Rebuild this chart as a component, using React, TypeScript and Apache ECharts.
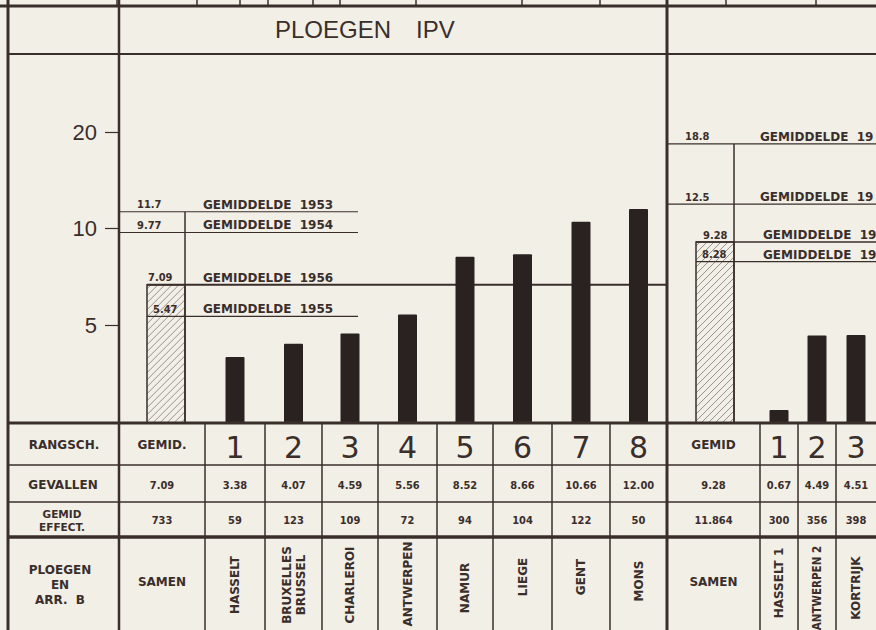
import React, { useEffect, useRef } from 'react';
import * as echarts from 'echarts';

// ---------------- data ----------------
const RANKS_LEFT = ['GEMID.', '1', '2', '3', '4', '5', '6', '7', '8'];
const PLACES_LEFT = ['SAMEN', 'HASSELT', 'BRUXELLES\nBRUSSEL', 'CHARLEROI', 'ANTWERPEN', 'NAMUR', 'LIEGE', 'GENT', 'MONS'];
const CASES_LEFT = [7.09, 3.38, 4.07, 4.59, 5.56, 8.52, 8.66, 10.66, 12.0];
const STAFF_LEFT = ['733', '59', '123', '109', '72', '94', '104', '122', '50'];

const RANKS_RIGHT = ['GEMID', '1', '2', '3'];
const PLACES_RIGHT = ['SAMEN', 'HASSELT 1', 'ANTWERPEN 2', 'KORTRIJK'];
const CASES_RIGHT = [9.28, 0.67, 4.49, 4.51];
const STAFF_RIGHT = ['11.864', '300', '356', '398'];

const MEANS_LEFT = [11.7, 9.77, 7.09, 5.47];
const MEAN_YEARS_LEFT = ['1953', '1954', '1956', '1955'];
const MEANS_RIGHT = [18.8, 12.5, 9.28, 8.28];
const MEAN_YEARS_RIGHT = ['19', '19', '19', '19'];

const Y_TICKS = [5, 10, 20];

const ROW_TITLES = ['RANGSCH.', 'GEVALLEN', 'GEMID\nEFFECT.', 'PLOEGEN\nEN\nARR.  B'];
const TITLE_A = 'PLOEGEN';
const TITLE_B = 'IPV';

// ---------------- layout / style ----------------
const PAPER = '#f2efe7';
const INK = '#3a2e2b';
const BAR = '#2a2220';
const W = 876;
const H = 630;
const BASE_Y = 423;
const GRID_TOP = 52.5;
const Y_MAX = 19;

// the printed scale is linear to 10 and compressed above 10
const T = (v: number) => (v <= 10 ? v : 10 + (v - 10) * 0.49);

const LEFT_EDGES = [119, 205, 265, 322, 378, 437, 493, 552, 610, 667];
const RIGHT_EDGES = [667, 760, 798, 836, 876];
const centers = (e: number[]) => e.slice(0, -1).map((x, i) => (x + e[i + 1]) / 2);
const LC = centers(LEFT_EDGES);
const RC = centers(RIGHT_EDGES);
const HATCH_X = [166, 715];
const HATCH_W = 38;
const BAR_W = 19;
const TOP_TICKS = [117, 197, 240, 268, 313, 340, 416, 522, 600, 726, 816];

const MEAN_LAYOUT_LEFT = [
  { x1: 119, x2: 358, lx: 137, tx: 203, w: 1.2 },
  { x1: 119, x2: 358, lx: 137, tx: 203, w: 1.2 },
  { x1: 147, x2: 667, lx: 148, tx: 203, w: 2 },
  { x1: 147, x2: 358, lx: 153, tx: 203, w: 1.2 },
];
const MEAN_LAYOUT_RIGHT = [
  { x1: 667, x2: 876, lx: 685, tx: 760, w: 1.2 },
  { x1: 667, x2: 876, lx: 685, tx: 760, w: 1.2 },
  { x1: 696, x2: 876, lx: 703, tx: 763, w: 1.5 },
  { x1: 696, x2: 876, lx: 702, tx: 763, w: 1.2 },
];
const NAME_Y_LEFT = [583, 585, 585, 585, 584, 588, 577, 577, 581];
const NAME_Y_RIGHT = [580, 583, 588, 588];

const FONT = 'DejaVu Sans';
const FONT_C = 'DejaVu Sans Condensed';

function txt(x: number, y: number, t: string, size: number, o: any = {}) {
  const align = o.align || 'center';
  return {
    type: 'text',
    x,
    y,
    rotation: o.rot || 0,
    silent: true,
    z: 10,
    style: {
      text: t,
      fill: INK,
      fontSize: size,
      fontFamily: o.family || FONT,
      fontWeight: o.weight || 'bold',
      textAlign: align,
      align,
      textVerticalAlign: 'middle',
      verticalAlign: 'middle',
      lineHeight: o.lh || Math.round(size * 1.2),
    },
  };
}
function ln(x1: number, y1: number, x2: number, y2: number, w: number) {
  return { type: 'line', silent: true, z: 5, shape: { x1, y1, x2, y2 }, style: { stroke: INK, lineWidth: w } };
}

function buildGraphic() {
  const g: any[] = [];
  // frame
  g.push(ln(0, 6, W, 6, 3));
  TOP_TICKS.forEach((x) => g.push(ln(x, 0, x, 6, 1.5)));
  g.push(ln(8, 0, 8, H, 3));
  g.push(ln(119, 0, 119, H, 2.5));
  g.push(ln(667, 0, 667, H, 3));
  g.push(ln(8, 54, W, 54, 2));
  g.push(ln(8, BASE_Y, W, BASE_Y, 3));
  g.push(ln(8, 465, W, 465, 1.5));
  g.push(ln(8, 502, W, 502, 1.5));
  g.push(ln(8, 537, W, 537, 3.5));
  [...LEFT_EDGES.slice(1, -1), ...RIGHT_EDGES.slice(1, -1)].forEach((x) => g.push(ln(x, BASE_Y, x, H, 1.5)));

  // title
  g.push(txt(275, 29, TITLE_A, 24, { align: 'left', family: 'Liberation Sans', weight: 'normal' }));
  g.push(txt(416, 29, TITLE_B, 24, { align: 'left', family: 'Liberation Sans', weight: 'normal' }));

  // row titles
  g.push(txt(64, 445, ROW_TITLES[0], 12));
  g.push(txt(63, 485, ROW_TITLES[1], 12));
  g.push(txt(62, 520, ROW_TITLES[2], 10.5, { lh: 13 }));
  g.push(txt(60, 585, ROW_TITLES[3], 12, { lh: 15 }));

  const addCols = (cx: number[], ranks: string[], cases: number[], staff: string[], places: string[], ny: number[], narrow: boolean) => {
    cx.forEach((x, i) => {
      if (i === 0) g.push(txt(x, 445, ranks[i], 12));
      else g.push(txt(x, 447, ranks[i], 30, { weight: 'normal' }));
      g.push(txt(x, 485, cases[i].toFixed(2), 11, { family: FONT_C }));
      g.push(txt(x, 520, staff[i], 11, { family: FONT_C }));
      if (i === 0) g.push(txt(x, 582, places[i], 12));
      else {
        const nm = places[i];
        const multi = nm.includes('\n');
        const small = narrow && nm.length > 9;
        g.push(txt(x, ny[i], nm, small ? 11.5 : 12, { rot: Math.PI / 2, lh: multi ? 14 : undefined, family: small ? FONT_C : FONT }));
      }
    });
  };
  addCols(LC, RANKS_LEFT, CASES_LEFT, STAFF_LEFT, PLACES_LEFT, NAME_Y_LEFT, false);
  addCols(RC, RANKS_RIGHT, CASES_RIGHT, STAFF_RIGHT, PLACES_RIGHT, NAME_Y_RIGHT, true);
  return g;
}

function buildOption() {
  const hatchData = [
    [HATCH_X[0], T(CASES_LEFT[0])],
    [HATCH_X[1], T(CASES_RIGHT[0])],
  ];
  const solidData = [
    ...LC.slice(1).map((x, i) => [x, T(CASES_LEFT[i + 1])]),
    ...RC.slice(1).map((x, i) => [x, T(CASES_RIGHT[i + 1])]),
  ];
  const meanRows = [
    ...MEANS_LEFT.map((v, i) => ({ v, year: MEAN_YEARS_LEFT[i], ...MEAN_LAYOUT_LEFT[i] })),
    ...MEANS_RIGHT.map((v, i) => ({ v, year: MEAN_YEARS_RIGHT[i], ...MEAN_LAYOUT_RIGHT[i] })),
  ];
  const meanData = meanRows.map((r) => [r.x1, T(r.v)]);
  const connData = [
    [HATCH_X[0] + HATCH_W / 2, T(Math.max(...MEANS_LEFT))],
    [HATCH_X[1] + HATCH_W / 2, T(Math.max(...MEANS_RIGHT))],
  ];
  const yTickVals = Y_TICKS.map(T);

  return {
    animation: false,
    backgroundColor: PAPER,
    grid: { left: 119, right: 0, top: GRID_TOP, bottom: H - BASE_Y },
    xAxis: { type: 'value', min: 119, max: W, show: false },
    yAxis: {
      type: 'value',
      min: 0,
      max: Y_MAX,
      axisLine: { show: false },
      splitLine: { show: false },
      axisTick: { show: true, length: 14, customValues: yTickVals, lineStyle: { color: INK, width: 1.2 } },
      axisLabel: {
        customValues: yTickVals,
        margin: 22,
        color: INK,
        fontSize: 22,
        fontFamily: 'Liberation Sans',
        formatter: (val: number) => {
          const t = Y_TICKS.find((k) => Math.abs(T(k) - val) < 1e-6);
          return t === undefined ? '' : String(t);
        },
      },
    },
    graphic: buildGraphic(),
    series: [
      {
        type: 'custom',
        name: 'gemiddelde',
        z: 2,
        data: hatchData,
        renderItem: (params: any, api: any) => {
          const top = api.coord([api.value(0), api.value(1)]);
          const base = api.coord([api.value(0), 0]);
          const x0 = top[0] - HATCH_W / 2;
          const x1 = top[0] + HATCH_W / 2;
          const y0 = top[1];
          const y1 = base[1];
          const children: any[] = [
            { type: 'rect', shape: { x: x0, y: y0, width: HATCH_W, height: y1 - y0 }, style: { fill: PAPER, stroke: INK, lineWidth: 1.5 } },
          ];
          for (let c = x0 + y0 + 4; c < x1 + y1; c += 7) {
            const xa = Math.max(x0, c - y1);
            const xb = Math.min(x1, c - y0);
            if (xb > xa) children.push({ type: 'line', shape: { x1: xa, y1: c - xa, x2: xb, y2: c - xb }, style: { stroke: INK, lineWidth: 0.7, opacity: 0.7 } });
          }
          return { type: 'group', children };
        },
      },
      {
        type: 'custom',
        name: 'jaargemiddelden',
        z: 3,
        data: meanData,
        renderItem: (params: any, api: any) => {
          const r = meanRows[params.dataIndex];
          const p1 = api.coord([r.x1, api.value(1)]);
          const p2 = api.coord([r.x2, api.value(1)]);
          const y = p1[1];
          return {
            type: 'group',
            children: [
              { type: 'line', shape: { x1: p1[0], y1: y, x2: p2[0], y2: y }, style: { stroke: INK, lineWidth: r.w } },
              {
                type: 'text',
                x: r.lx,
                y: y - 7,
                style: { text: String(r.v), fill: INK, fontSize: 11, fontFamily: FONT_C, fontWeight: 'bold', textAlign: 'left', align: 'left', textVerticalAlign: 'middle', verticalAlign: 'middle' },
              },
              {
                type: 'text',
                x: r.tx,
                y: y - 7,
                style: { text: 'GEMIDDELDE  ' + r.year, fill: INK, fontSize: 12, fontFamily: FONT, fontWeight: 'bold', textAlign: 'left', align: 'left', textVerticalAlign: 'middle', verticalAlign: 'middle' },
              },
            ],
          };
        },
      },
      {
        type: 'custom',
        name: 'verbinding',
        z: 3,
        data: connData,
        renderItem: (params: any, api: any) => {
          const top = api.coord([api.value(0), api.value(1)]);
          const base = api.coord([api.value(0), 0]);
          return { type: 'line', shape: { x1: top[0], y1: top[1], x2: base[0], y2: base[1] }, style: { stroke: INK, lineWidth: 1.5 } };
        },
      },
      {
        type: 'custom',
        name: 'gevallen',
        z: 4,
        data: solidData,
        renderItem: (params: any, api: any) => {
          const top = api.coord([api.value(0), api.value(1)]);
          const base = api.coord([api.value(0), 0]);
          return {
            type: 'rect',
            shape: { x: top[0] - BAR_W / 2, y: top[1], width: BAR_W, height: base[1] - top[1], r: 1 },
            style: { fill: BAR },
          };
        },
      },
    ],
  };
}

export default function App() {
  const ref = useRef<HTMLDivElement>(null);
  useEffect(() => {
    if (!ref.current) return;
    const chart = echarts.init(ref.current, null, { renderer: 'svg' });
    chart.setOption(buildOption() as any);
    return () => chart.dispose();
  }, []);
  return <div ref={ref} style={{ position: 'fixed', left: 0, top: 0, width: W, height: H, background: PAPER }} />;
}
